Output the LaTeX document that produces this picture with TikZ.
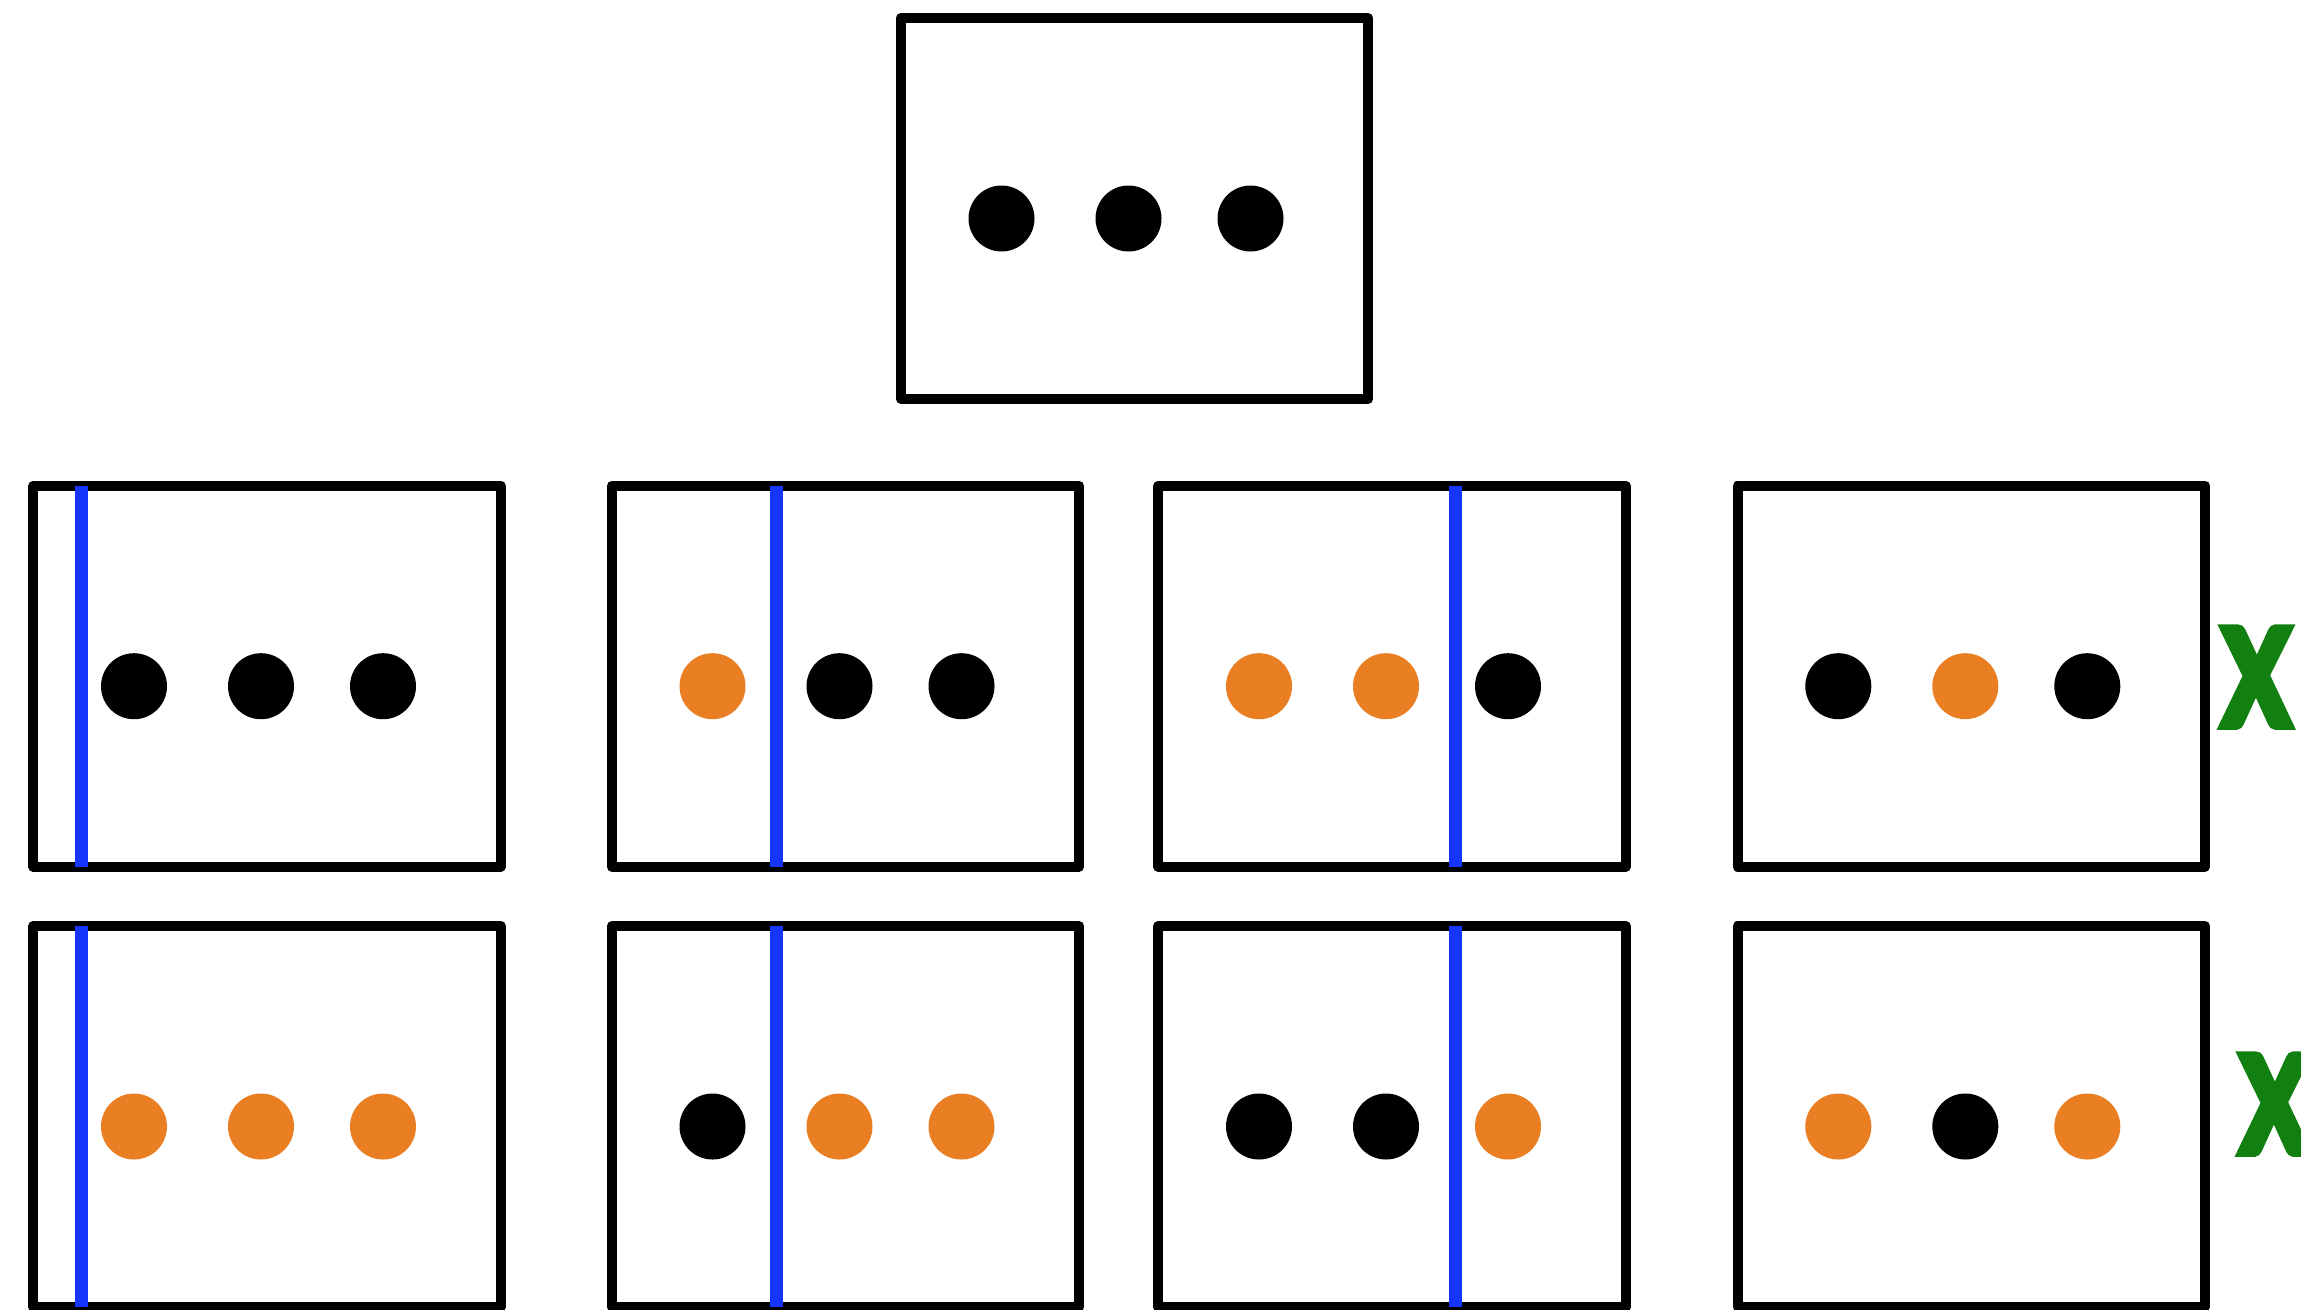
\documentclass[tikz,border=0pt]{standalone}
\usepackage{fontspec}
\newfontfamily\xfont{Carlito}[FakeBold=8,FakeStretch=0.82]
\usetikzlibrary{calc}
\definecolor{dotorange}{RGB}{233,126,34}
\definecolor{cutblue}{RGB}{21,54,250}
\definecolor{okgreen}{RGB}{17,128,17}
\tikzset{
  panel/.style={draw=black, line width=10pt, line join=round, rectangle, fill=none,
    minimum width=467.5pt, minimum height=381pt, inner sep=0pt, outer sep=0pt},
  dotk/.style={circle, fill=black, minimum size=66pt, inner sep=0pt},
  doto/.style={circle, fill=dotorange, minimum size=66pt, inner sep=0pt},
  cutline/.style={draw=cutblue, line width=13pt},
  mark label/.style={text=okgreen, font=\xfont\fontsize{146}{146}\selectfont,
    inner sep=0pt, anchor=base west}
}
\begin{document}
\begin{tikzpicture}[x=1pt,y=-1pt]
\clip (0,0) rectangle (2301,1309);
\fill[white] (0,0) rectangle (2301,1309);

% top panel
\node[panel] (b0) at (1134.5,208.5) {};
\node[dotk] (b0d1) at ($(b0.center)+(-133,10)$) {};
\node[dotk] (b0d2) at ($(b0.center)+(-6,10)$) {};
\node[dotk] (b0d3) at ($(b0.center)+(116,10)$) {};

% row 1
\node[panel] (b11) at (267,676.2) {};
\node[panel] (b12) at (845.5,676.2) {};
\node[panel] (b13) at (1392,676.2) {};
\node[panel] (b14) at (1971.3,676.2) {};

\node[dotk] (b11d1) at ($(b11.center)+(-133,10)$) {};
\node[dotk] (b11d2) at ($(b11.center)+(-6,10)$) {};
\node[dotk] (b11d3) at ($(b11.center)+(116,10)$) {};

\node[doto] (b12d1) at ($(b12.center)+(-133,10)$) {};
\node[dotk] (b12d2) at ($(b12.center)+(-6,10)$) {};
\node[dotk] (b12d3) at ($(b12.center)+(116,10)$) {};

\node[doto] (b13d1) at ($(b13.center)+(-133,10)$) {};
\node[doto] (b13d2) at ($(b13.center)+(-6,10)$) {};
\node[dotk] (b13d3) at ($(b13.center)+(116,10)$) {};

\node[dotk] (b14d1) at ($(b14.center)+(-133,10)$) {};
\node[doto] (b14d2) at ($(b14.center)+(-6,10)$) {};
\node[dotk] (b14d3) at ($(b14.center)+(116,10)$) {};

\draw[cutline] ($(b11.north)+(-185.3,0)$) -- ($(b11.south)+(-185.3,0)$);
\draw[cutline] ($(b12.north)+(-69.1,0)$) -- ($(b12.south)+(-69.1,0)$);
\draw[cutline] ($(b13.north)+(63.3,0)$) -- ($(b13.south)+(63.3,0)$);

\node[mark label] (x1) at (2225,724) {X};

% row 2
\node[panel] (b21) at (267,1116.5) {};
\node[panel] (b22) at (845.5,1116.5) {};
\node[panel] (b23) at (1392,1116.5) {};
\node[panel] (b24) at (1971.3,1116.5) {};

\node[doto] (b21d1) at ($(b21.center)+(-133,10)$) {};
\node[doto] (b21d2) at ($(b21.center)+(-6,10)$) {};
\node[doto] (b21d3) at ($(b21.center)+(116,10)$) {};

\node[dotk] (b22d1) at ($(b22.center)+(-133,10)$) {};
\node[doto] (b22d2) at ($(b22.center)+(-6,10)$) {};
\node[doto] (b22d3) at ($(b22.center)+(116,10)$) {};

\node[dotk] (b23d1) at ($(b23.center)+(-133,10)$) {};
\node[dotk] (b23d2) at ($(b23.center)+(-6,10)$) {};
\node[doto] (b23d3) at ($(b23.center)+(116,10)$) {};

\node[doto] (b24d1) at ($(b24.center)+(-133,10)$) {};
\node[dotk] (b24d2) at ($(b24.center)+(-6,10)$) {};
\node[doto] (b24d3) at ($(b24.center)+(116,10)$) {};

\draw[cutline] ($(b21.north)+(-185.3,0)$) -- ($(b21.south)+(-185.3,0)$);
\draw[cutline] ($(b22.north)+(-69.1,0)$) -- ($(b22.south)+(-69.1,0)$);
\draw[cutline] ($(b23.north)+(63.3,0)$) -- ($(b23.south)+(63.3,0)$);

\node[mark label] (x2) at (2243,1151) {X};
\end{tikzpicture}
\end{document}
